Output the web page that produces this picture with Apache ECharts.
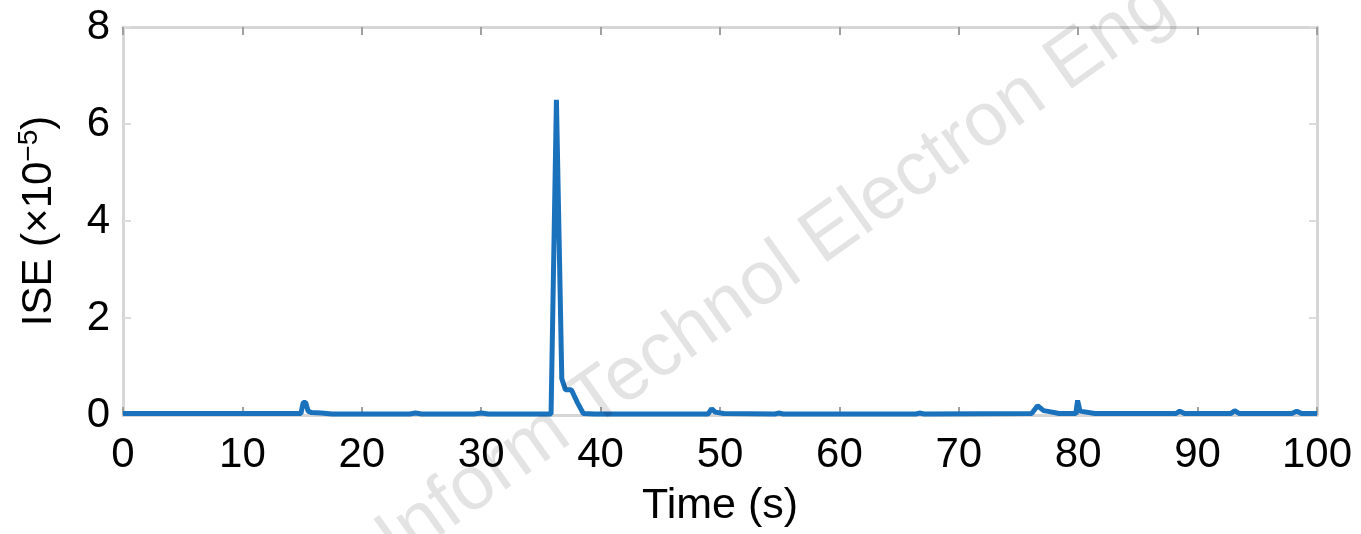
<!DOCTYPE html>
<html lang="en">

<head>
    <meta charset="UTF-8">
    <title>ISE</title>
    <script src="https://cdn.jsdelivr.net/npm/echarts@6/dist/echarts.min.js"></script>
    <style>
        html, body {
            margin: 0;
            padding: 0;
            background: #fff;
        }
    </style>
</head>

<body>
    <div id="chart" style="width: 1361px; height: 534px;"></div>

    <script>
        // time (s) and ISE (x1e-5)
        let timeValues = [0, 14.9, 15.1, 15.3, 15.5, 15.8, 16.6, 17.5, 24.0, 24.5, 25.0, 29.4, 30.0, 30.6,
            35.85, 36.3, 36.75, 37.05, 37.55, 38.05, 38.55, 39.5, 49.0, 49.3, 49.6, 50.3, 54.6, 54.9, 55.3,
            66.4, 66.7, 67.1, 76.1, 76.6, 77.1, 77.6, 78.4, 79.8, 79.95, 80.15, 80.3, 81.4, 88.2, 88.5, 88.9,
            92.8, 93.1, 93.5, 97.9, 98.3, 98.7, 100];
        let iseValues = [0.03, 0.03, 0.26, 0.26, 0.08, 0.05, 0.04, 0.02, 0.02, 0.04, 0.02, 0.02, 0.04, 0.02,
            0.02, 6.5, 0.75, 0.52, 0.52, 0.26, 0.03, 0.02, 0.02, 0.13, 0.06, 0.03, 0.02, 0.04, 0.02,
            0.02, 0.04, 0.02, 0.03, 0.19, 0.09, 0.07, 0.03, 0.03, 0.3, 0.08, 0.05, 0.03, 0.03, 0.08, 0.03,
            0.03, 0.09, 0.03, 0.03, 0.08, 0.03, 0.03];

        let xTicks = [0, 10, 20, 30, 40, 50, 60, 70, 80, 90, 100];
        let yTicks = [0, 2, 4, 6, 8];

        let axisGray = '#d6d6d6';
        let font = 'Liberation Sans, Arial, sans-serif';

        let chart = echarts.init(document.getElementById('chart'));

        function frameAxis(tickColor) {
            return {
                axisLine: { show: true, onZero: false, lineStyle: { color: axisGray, width: 3 } },
                axisTick: { show: true, inside: true, length: 8, lineStyle: { color: tickColor, width: 2 } },
                splitLine: { show: false }
            };
        }

        let option = {
            animation: false,
            grid: { left: 123, right: 44, top: 27, bottom: 119 },
            xAxis: [
                Object.assign({
                    type: 'value',
                    min: xTicks[0],
                    max: xTicks[xTicks.length - 1],
                    interval: 10,
                    name: 'Time (s)',
                    nameLocation: 'middle',
                    nameGap: 70,
                    nameTextStyle: { color: '#000', fontSize: 43, fontFamily: font },
                    axisLabel: { color: '#000', fontSize: 42, fontFamily: font, margin: 19 }
                }, frameAxis('#a0a0a0')),
                Object.assign({
                    type: 'value',
                    position: 'top',
                    min: xTicks[0],
                    max: xTicks[xTicks.length - 1],
                    interval: 10,
                    axisLabel: { show: false }
                }, frameAxis('#a0a0a0'))
            ],
            yAxis: [
                Object.assign({
                    type: 'value',
                    min: yTicks[0],
                    max: yTicks[yTicks.length - 1],
                    interval: 2,
                    name: '{a|ISE (×10}{b|−5}{a|)}',
                    nameLocation: 'middle',
                    nameGap: 60,
                    nameTextStyle: {
                        rich: {
                            a: { color: '#000', fontSize: 42, fontFamily: font, lineHeight: 48 },
                            b: { color: '#000', fontSize: 28, fontFamily: font, lineHeight: 22, verticalAlign: 'top' }
                        }
                    },
                    axisLabel: { color: '#000', fontSize: 42, fontFamily: font, margin: 13 }
                }, frameAxis('#dcdcdc')),
                Object.assign({
                    type: 'value',
                    position: 'right',
                    min: yTicks[0],
                    max: yTicks[yTicks.length - 1],
                    interval: 2,
                    axisLabel: { show: false }
                }, frameAxis('#dcdcdc'))
            ],
            series: [{
                type: 'line',
                data: timeValues.map((t, i) => [t, iseValues[i]]),
                showSymbol: false,
                z: 5,
                lineStyle: { color: '#1a72bd', width: 5 }
            }],
            graphic: [{
                type: 'text',
                x: 1187,
                y: 28,
                rotation: 35.3 * Math.PI / 180,
                silent: true,
                z: 100,
                style: {
                    text: 'J Zhejiang Univ-Sci Front Inform Technol Electron Eng',
                    fontSize: 76,
                    fontFamily: font,
                    fill: 'rgba(0, 0, 0, 0.11)',
                    align: 'right',
                    verticalAlign: 'bottom'
                }
            }]
        };

        chart.setOption(option);
    </script>
</body>

</html>
